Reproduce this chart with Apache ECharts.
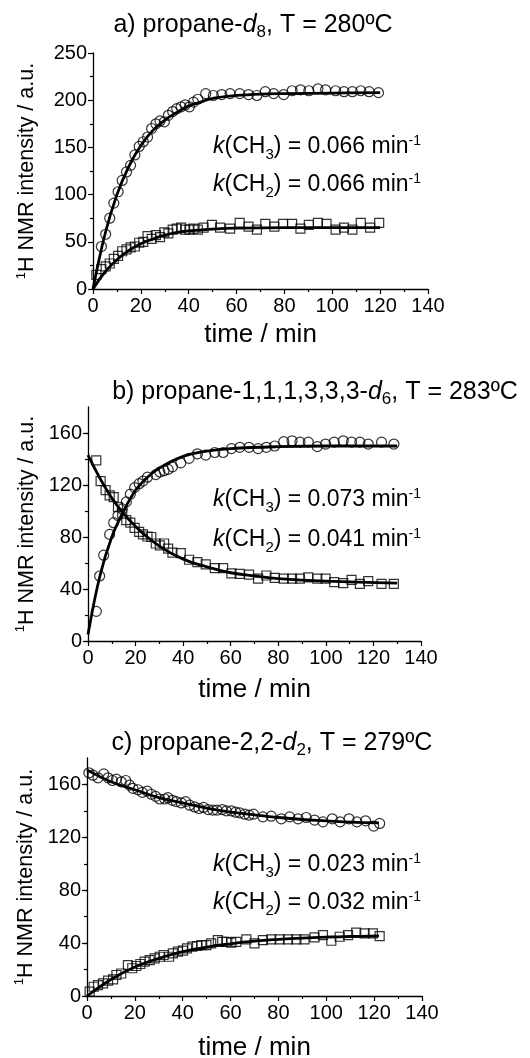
<!DOCTYPE html>
<html><head><meta charset="utf-8">
<script src="https://cdn.jsdelivr.net/npm/echarts@6/dist/echarts.min.js"></script>
<style>html,body{margin:0;padding:0;background:#fff}#c{width:530px;height:1058px}</style>
</head><body><div id="c"></div>
<script>
// ---- data (time [min], 1H NMR intensity [a.u.]) ----
const aCH3 = [[3.5,45],[5.3,58],[7.0,75],[8.7,91],[10.5,103],[12.2,115],[14.0,124],[15.7,131],[17.5,142],[19.3,151],[21.0,156],[22.8,161],[24.5,170],[26.3,175],[28.0,178],[29.8,177],[31.5,184],[33.3,188],[35.0,191],[36.8,193],[38.5,195],[40.3,193],[42.0,198],[43.8,201],[47.1,207],[50.3,205],[53.8,206],[57.3,207],[61.3,207],[65.0,206],[68.5,205],[72.0,209],[75.5,207],[79.7,206],[83.2,210],[86.7,211],[90.2,210],[94.0,212],[97.2,211],[101.4,210],[104.9,209],[108.4,209],[111.9,210],[115.4,209],[119.3,208]];
const aCH2 = [[1.4,15],[3.5,21],[5.3,24],[7.0,27],[8.7,32],[10.5,35],[12.2,40],[14.0,42],[15.7,44],[17.5,45],[19.3,49],[21.0,50],[22.8,56],[24.5,53],[26.3,57],[28.0,55],[29.8,60],[31.5,59],[33.3,63],[35.0,64],[36.8,65],[38.5,63],[40.3,63],[42.0,64],[43.8,63],[46.2,65],[49.7,68],[53.1,65],[57.3,64],[61.3,70],[65.0,66],[68.5,63],[72.0,69],[75.8,66],[79.4,69],[83.2,69],[86.7,64],[90.2,68],[94.0,70],[97.6,69],[101.4,63],[104.9,65],[108.4,63],[111.9,70],[115.8,65],[119.6,70]];
const aFitCH3 = [[0,0],[5,58],[10,100],[15,130],[20,152],[25,168],[30,179],[35,187],[40,194],[45,198],[50,202],[60,205],[70,206.5],[80,207],[100,207.5],[120,208]];
const aFitCH2 = [[0,0],[5,18],[10,31],[15,41],[20,48],[25,53],[30,57],[35,60],[40,61.5],[50,63.5],[60,64.5],[80,65],[100,65],[120,65]];

const bCH3 = [[3.5,22.8],[4.9,50],[6.6,66],[9.1,82],[10.8,91],[12.6,96.5],[14.4,101.6],[16.1,107],[17.8,113],[19.6,118],[21.5,121],[23.1,123],[25.0,126],[28.5,128],[30.2,130],[32.0,131],[33.7,132],[35.5,134],[39.0,137],[42.5,140.5],[46.0,144],[49.5,143],[53.3,145],[56.8,145],[60.3,148],[63.8,149],[67.7,149],[71.5,148],[75.0,149],[78.5,150],[82.3,153.3],[85.8,154],[89.1,153],[92.6,153],[96.4,149.5],[99.9,151.5],[103.5,153],[107.3,154],[110.8,153],[114.3,153],[117.8,151.5],[123.4,153],[128.6,151.5]];
const bCH2 = [[3.5,139],[5.3,123],[7.4,116],[9.1,112],[10.8,110.6],[12.6,103],[14.4,98],[16.1,93],[17.8,91],[19.6,87],[21.5,84],[23.1,82],[25.0,80.4],[26.6,80],[28.5,75],[30.2,73.5],[32.0,75],[33.7,71],[35.5,68],[39.0,67.6],[42.5,62.5],[46.0,60.7],[49.5,59],[53.3,56],[56.8,56],[60.3,52],[63.8,51.7],[67.7,51],[71.5,48],[75.0,50.4],[78.5,48.6],[82.3,48],[85.8,48],[89.1,48],[92.6,49],[96.4,48],[99.9,48],[103.5,45.3],[107.3,44.5],[110.8,47],[114.3,44],[117.8,46],[123.4,44],[128.6,44]];
const bFitCH3 = [[0,5],[5,50],[10,80],[15,100],[20,116],[25,126],[30,133],[40,142],[50,146],[60,148],[80,149.5],[100,150],[130,150]];
const bFitCH2 = [[0,143],[10,110],[20,88],[30,73],[40,63],[50,57],[60,52.5],[70,50],[80,48],[100,46],[130,44.5]];

const cCH3 = [[0.8,168.8],[2.5,167],[4.6,165],[7.0,168],[8.8,165],[10.6,163],[12.3,164],[14.3,162],[16.2,163],[17.8,159.5],[19.2,157],[21.3,156],[23.1,154],[25.1,155],[26.9,152.6],[28.7,151],[30.4,149],[32.5,149],[33.8,150],[35.7,148],[37.3,147],[39.4,146],[41.2,147],[42.9,144.3],[45.0,143],[46.8,141.8],[48.7,142.6],[50.6,141],[52.6,140.6],[54.3,140.6],[56.5,141],[58.2,140],[60.3,140],[62.1,139],[63.8,138.5],[65.9,137.5],[67.7,136.8],[69.6,137.5],[73.5,135.5],[77.0,136],[81.2,134],[84.7,135.5],[88.2,134],[91.6,135],[95.1,133],[98.6,131.7],[102.5,134],[105.8,131.7],[109.5,134],[112.8,131.7],[116.4,132.5],[119.8,128.5],[122.3,130.5]];
const cCH2 = [[1.1,3.3],[2.8,7],[4.6,8.3],[6.7,9.6],[8.8,11.6],[10.9,12.6],[12.3,15.9],[14.3,17],[17.1,23.4],[18.9,21],[20.6,22.7],[22.3,24.2],[24.1,26],[26.2,27.2],[28.3,28.5],[30.4,29.7],[32.0,31],[34.3,29.7],[35.9,32.2],[38.0,33.5],[40.1,34.3],[41.8,36],[44.0,37.3],[46.0,37.8],[47.8,38.5],[49.9,38.5],[51.9,39.8],[54.7,42.3],[56.5,41],[58.2,41],[60.3,40.3],[62.4,41],[66.6,42.8],[70.0,39.8],[73.5,42.3],[77.0,42.8],[80.5,42.8],[84.0,42.8],[87.5,42.8],[90.9,42.8],[95.1,44.3],[98.6,46],[102.1,41.8],[105.6,44.8],[109.1,46],[112.5,47.9],[116.0,47.4],[119.5,47.4],[122.3,45.3]];
const cFitCH3 = [[0,171],[10,162],[20,156],[30,150],[40,146],[50,142],[60,139],[70,137],[80,135],[90,133.5],[100,132.5],[110,131.5],[122,131]];
const cFitCH2 = [[0,0],[10,12.5],[20,22],[30,28.5],[40,33.5],[50,37],[60,39.5],[70,41.5],[80,42.8],[90,43.8],[100,44.5],[110,45],[122,45.5]];

const titles = ['a) propane-{i|d}{sub|8}, T = 280ºC', 'b) propane-1,1,1,3,3,3-{i|d}{sub|6}, T = 283ºC', 'c) propane-2,2-{i|d}{sub|2}, T = 279ºC'];
const kCH3 = ['0.066', '0.073', '0.023'];
const kCH2 = ['0.066', '0.041', '0.032'];
const yMaxes = [250, 180, 180];
const yMajorBC = [0, 40, 80, 120, 160];

// ---- layout ----
const FONT = '"Liberation Sans", Arial, Helvetica, sans-serif';
const grids = [
  {left: 93, top: 53, width: 335, height: 236},
  {left: 88, top: 407, width: 333, height: 234},
  {left: 87, top: 758, width: 335, height: 238}
];
const xNameGaps = [33, 36, 39];
const yNameGaps = [53, 48, 47];
const titlePos = [[253, 25], [315, 392], [272, 743]];
const annY = [[147, 185], [500, 540], [865, 903]];

const axLine = {show: true, lineStyle: {color: '#000', width: 1.3}};
const labelStyle = {color: '#000', fontSize: 20, fontFamily: FONT};
function richFor(size) {
  return {
    i: {fontStyle: 'italic', fontSize: size, fontFamily: FONT, color: '#000'},
    sub: {fontSize: Math.round(size * 0.66), fontFamily: FONT, color: '#000', verticalAlign: 'middle', padding: [15, 0, 0, 0]},
    sup: {fontSize: Math.round(size * 0.6), fontFamily: FONT, color: '#000', verticalAlign: 'middle', padding: [0, 0, 12, 0]}
  };
}
const richT = richFor(25);
const richA = richFor(23);
const richY = richFor(21.5);

const option = {
  backgroundColor: '#fff',
  animation: false,
  grid: grids.map(g => Object.assign({outerBoundsMode: 'none', containLabel: false}, g)),
  xAxis: grids.map((g, i) => ({
    gridIndex: i, type: 'value', min: 0, max: 140, interval: 20,
    name: 'time / min', nameLocation: 'middle', nameGap: xNameGaps[i],
    nameTextStyle: {fontSize: 26, color: '#000', fontFamily: FONT},
    axisLine: axLine, splitLine: {show: false},
    axisTick: {show: true, length: 5, lineStyle: {color: '#000', width: 1.2}},
    minorTick: {show: true, splitNumber: 2, length: 3, lineStyle: {color: '#000', width: 1.2}},
    axisLabel: Object.assign({margin: 7}, labelStyle)
  })),
  yAxis: [],
  series: [],
  graphic: []
};

// y axes
[0, 1, 2].forEach(i => {
  const base = {
    gridIndex: i, type: 'value', position: 'left', min: 0, max: yMaxes[i],
    name: '{sup|1}H NMR intensity / a.u.', nameLocation: 'middle', nameGap: yNameGaps[i],
    nameTextStyle: {fontSize: 21.5, color: '#000', fontFamily: FONT, rich: richY},
    axisLine: axLine, splitLine: {show: false},
    axisLabel: Object.assign({margin: 6}, labelStyle)
  };
  if (i === 0) {
    base.interval = 50;
    base.axisTick = {show: true, length: 5, lineStyle: {color: '#000', width: 1.2}};
    base.minorTick = {show: true, splitNumber: 2, length: 3, lineStyle: {color: '#000', width: 1.2}};
    option.yAxis.push(base);
  } else {
    base.interval = 20;
    base.axisTick = {show: true, length: 3, lineStyle: {color: '#000', width: 1.2}};
    base.axisLabel.formatter = v => (v % 40 === 0 && v <= 160) ? String(v) : '';
    base.axisLabel.showMaxLabel = false;
    option.yAxis.push(base);
    option.yAxis.push({
      gridIndex: i, type: 'value', position: 'left', offset: 0, min: 0, max: yMaxes[i], interval: 40,
      axisLine: {show: false}, splitLine: {show: false}, axisLabel: {show: false},
      axisTick: {show: true, length: 5, customValues: yMajorBC, lineStyle: {color: '#000', width: 1.2}}
    });
  }
});

// series
const panels = [
  [aCH3, aCH2, aFitCH3, aFitCH2, 0],
  [bCH3, bCH2, bFitCH3, bFitCH2, 1],
  [cCH3, cCH2, cFitCH3, cFitCH2, 3]
];
panels.forEach((p, i) => {
  const yi = p[4];
  const mk = {color: 'rgba(0,0,0,0)', borderColor: '#000', borderWidth: 1.2};
  option.series.push({type: 'scatter', xAxisIndex: i, yAxisIndex: yi, data: p[0], symbol: 'circle', symbolSize: 10, itemStyle: mk, z: 2});
  option.series.push({type: 'scatter', xAxisIndex: i, yAxisIndex: yi, data: p[1], symbol: 'rect', symbolSize: 9, itemStyle: mk, z: 2});
  [p[2], p[3]].forEach(d => option.series.push({
    type: 'line', xAxisIndex: i, yAxisIndex: yi, data: d, smooth: 0.4, showSymbol: false, symbol: 'none',
    lineStyle: {color: '#000', width: 2.8}, z: 3
  }));
});

// titles and annotations
titles.forEach((t, i) => {
  option.graphic.push({
    type: 'text', x: titlePos[i][0], y: titlePos[i][1],
    style: {text: t, fontSize: 25, fontFamily: FONT, fill: '#000', align: 'center', verticalAlign: 'middle', rich: richT}
  });
  option.graphic.push({
    type: 'text', x: 213, y: annY[i][0],
    style: {text: '{i|k}(CH{sub|3}) = ' + kCH3[i] + ' min{sup|-1}', fontSize: 23, fontFamily: FONT, fill: '#000', align: 'left', verticalAlign: 'middle', rich: richA}
  });
  option.graphic.push({
    type: 'text', x: 213, y: annY[i][1],
    style: {text: '{i|k}(CH{sub|2}) = ' + kCH2[i] + ' min{sup|-1}', fontSize: 23, fontFamily: FONT, fill: '#000', align: 'left', verticalAlign: 'middle', rich: richA}
  });
});

const chart = echarts.init(document.getElementById('c'), null, {renderer: 'canvas'});
chart.setOption(option);
</script>
</body></html>
